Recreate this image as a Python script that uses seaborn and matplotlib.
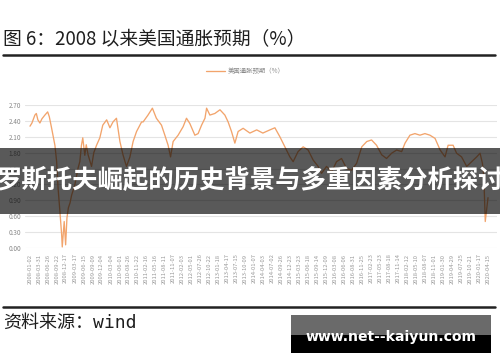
import matplotlib
matplotlib.use("Agg")
import matplotlib.pyplot as plt
from matplotlib.patches import Rectangle
from matplotlib.lines import Line2D
import pandas as pd
import seaborn as sns

# ---- data ----
dates = [
    "2008-01-02", "2008-01-21", "2008-02-19", "2008-03-04", "2008-03-19", "2008-04-08",
    "2008-04-28", "2008-05-27", "2008-06-23", "2008-07-09", "2008-07-31", "2008-09-02",
    "2008-09-19", "2008-10-03", "2008-10-21", "2008-11-07", "2008-11-13", "2008-11-24",
    "2008-12-02", "2008-12-16", "2008-12-29", "2009-01-12", "2009-01-28", "2009-02-13",
    "2009-03-16", "2009-04-17", "2009-05-04", "2009-05-20", "2009-06-02", "2009-06-22",
    "2009-07-06", "2009-07-24", "2009-08-27", "2009-09-18", "2009-10-15", "2009-11-16",
    "2009-12-15", "2010-01-22", "2010-02-23", "2010-03-25", "2010-04-28", "2010-06-01",
    "2010-07-01", "2010-08-04", "2010-09-07", "2010-10-08", "2010-11-11", "2010-12-30",
    "2011-01-14", "2011-03-03", "2011-04-15", "2011-05-24", "2011-07-13", "2011-08-15",
    "2011-09-16", "2011-10-10", "2011-11-04", "2011-12-23", "2012-02-10", "2012-03-14",
    "2012-04-16", "2012-06-04", "2012-07-06", "2012-08-09", "2012-09-11", "2012-09-27",
    "2012-10-29", "2012-12-17", "2013-02-05", "2013-03-25", "2013-04-26", "2013-05-29",
    "2013-07-01", "2013-08-02", "2013-09-20", "2013-11-25", "2014-01-31", "2014-04-01",
    "2014-06-09", "2014-07-28", "2014-09-15", "2014-11-03", "2014-12-22", "2015-01-23",
    "2015-03-12", "2015-05-01", "2015-06-19", "2015-08-07", "2015-09-25", "2015-10-28",
    "2015-12-16", "2016-02-04", "2016-03-23", "2016-05-11", "2016-06-30", "2016-08-18",
    "2016-10-06", "2016-11-25", "2017-01-13", "2017-03-01", "2017-04-19", "2017-06-08",
    "2017-07-26", "2017-09-14", "2017-11-02", "2017-12-21", "2018-01-23", "2018-03-12",
    "2018-04-30", "2018-06-18", "2018-08-06", "2018-09-24", "2018-11-13", "2019-01-02",
    "2019-02-19", "2019-03-21", "2019-05-09", "2019-06-12", "2019-07-31", "2019-09-19",
    "2019-11-07", "2019-12-26", "2020-01-28", "2020-02-20", "2020-03-05", "2020-03-19",
    "2020-04-15",
]
inflation_expectation = [
    2.30, 2.36, 2.51, 2.54, 2.42, 2.36,
    2.44, 2.51, 2.57, 2.48, 2.27, 1.94,
    1.63, 1.13, 0.69, 0.25, 0.02, 0.30,
    0.50, 0.06, 0.57, 0.76, 0.85, 1.00,
    1.19, 1.51, 1.63, 1.94, 2.08, 1.75,
    1.95, 1.76, 1.54, 1.80, 1.94, 2.08,
    2.32, 2.42, 2.27, 2.38, 2.45, 2.01,
    1.76, 1.54, 1.72, 2.01, 2.20, 2.38,
    2.38, 2.51, 2.64, 2.45, 2.32, 2.13,
    1.94, 1.72, 2.01, 2.13, 2.29, 2.45,
    2.35, 2.13, 2.16, 2.32, 2.45, 2.64,
    2.51, 2.54, 2.61, 2.51, 2.38, 2.20,
    1.98, 2.20, 2.26, 2.17, 2.23, 2.17,
    2.23, 2.27, 2.10, 1.91, 1.72, 1.63,
    1.82, 1.91, 1.85, 1.66, 1.54, 1.41,
    1.54, 1.44, 1.63, 1.69, 1.50, 1.47,
    1.60, 1.91, 2.01, 2.04, 1.94, 1.76,
    1.69, 1.79, 1.85, 1.82, 1.98, 2.13,
    2.16, 2.13, 2.16, 2.13, 2.07, 1.85,
    1.72, 1.94, 1.94, 1.79, 1.72, 1.54,
    1.63, 1.72, 1.79, 1.60, 1.35, 0.50,
    0.95,
]
tick_dates = [
    "2008-01-02", "2008-03-31", "2008-06-26", "2008-09-22", "2008-12-17", "2009-03-17",
    "2009-06-15", "2009-09-09", "2009-12-04", "2010-03-04", "2010-06-01", "2010-08-26",
    "2010-11-22", "2011-02-16", "2011-05-16", "2011-08-11", "2011-11-07", "2012-02-03",
    "2012-05-01", "2012-07-26", "2012-10-22", "2013-01-18", "2013-04-17", "2013-07-15",
    "2013-10-09", "2014-01-07", "2014-04-03", "2014-07-02", "2014-09-26", "2014-12-23",
    "2015-03-23", "2015-06-18", "2015-09-14", "2015-12-09", "2016-03-08", "2016-06-06",
    "2016-08-31", "2016-11-25", "2017-02-23", "2017-05-23", "2017-08-18", "2017-11-14",
    "2018-02-12", "2018-05-10", "2018-08-07", "2018-11-01", "2019-01-30", "2019-04-29",
    "2019-07-25", "2019-10-21", "2020-01-17", "2020-04-15",
]
y_ticks = [0.00, 0.30, 0.60, 0.90, 1.20, 1.50, 1.80, 2.10, 2.40, 2.70]
y_tick_labels = ["0.00", "0.30", "0.60", "0.90", "1.20", "1.50", "1.80", "2.10", "2.40", "2.70"]

title_text = "图 6：2008 以来美国通胀预期（%）"
legend_text = "美国通胀预期（%）"
banner_text = "罗斯托夫崛起的历史背景与多重因素分析探讨"
source_text = "资料来源：wind"
watermark_text = "www.net--kaiyun.com"

# ---- styling ----
sns.set_theme(style="white")
plt.rcParams["font.family"] = ["Noto Sans CJK SC", "DejaVu Sans"]

W, H = 500, 362
fig = plt.figure(figsize=(W / 100, H / 100), dpi=100)
fig.patch.set_facecolor("white")

def fx(px):
    return px / W

def fy(py):
    return 1 - py / H

ax = fig.add_axes([fx(25), fy(248), fx(497) - fx(25), fy(105) - fy(248)])

df = pd.DataFrame({"date": pd.to_datetime(dates), "value": inflation_expectation})
sns.lineplot(data=df, x="date", y="value", ax=ax, color="#F2A46C", linewidth=0.95,
             label=legend_text)

start = pd.Timestamp(dates[0]) - pd.Timedelta(days=49)
end = pd.Timestamp(dates[-1]) + pd.Timedelta(days=88)
ax.set_xlim(start, end)
ax.set_ylim(0, 2.7)
ax.set_yticks(y_ticks)
ax.set_yticklabels(y_tick_labels)
ax.set_xticks(pd.to_datetime(tick_dates))
ax.set_xticklabels(tick_dates, rotation=90)
ax.tick_params(axis="y", labelsize=4.6, labelcolor="#888888", length=0, pad=3)
ax.tick_params(axis="x", labelsize=4.2, labelcolor="#999999", length=0, pad=4)
ax.set_xlabel("")
ax.set_ylabel("")
ax.grid(axis="y", color="#e4e4e4", linewidth=0.8)
ax.grid(axis="x", visible=False)
for s in ax.spines.values():
    s.set_visible(False)

leg = ax.legend(loc="center", bbox_to_anchor=(fx(245), fy(71)), bbox_transform=fig.transFigure,
                frameon=False, fontsize=4.6, handlelength=3.0, handletextpad=0.4)
for t in leg.get_texts():
    t.set_color("#888888")

# title and rules
fig.text(fx(3), fy(40), title_text, fontsize=13.5, color="#1e1e1e", va="center", ha="left")
fig.add_artist(Line2D([fx(3), fx(495)], [fy(55), fy(55)], color="#222222", linewidth=1.8))
fig.add_artist(Line2D([fx(3), fx(495)], [fy(306.5), fy(306.5)], color="#222222", linewidth=1.8))
fig.text(fx(3), fy(323), source_text, fontsize=13, color="#1e1e1e", va="center", ha="left",
         family=["DejaVu Sans Mono", "Noto Sans CJK SC"])

# overlay banner
fig.add_artist(Rectangle((0, fy(214)), 1, fy(148) - fy(214), transform=fig.transFigure,
                         facecolor="black", alpha=0.65, edgecolor="none", zorder=5))
fig.text(0.5, fy(181), banner_text, fontsize=18.3, fontweight="bold", color="white",
         ha="center", va="center", zorder=6)

# watermark box
fig.add_artist(Rectangle((fx(291), fy(335)), fx(491) - fx(291), fy(315) - fy(335),
                         transform=fig.transFigure, facecolor="#6a6a6a", edgecolor="none", zorder=5))
fig.add_artist(Rectangle((fx(291), fy(353)), fx(491) - fx(291), fy(335) - fy(353),
                         transform=fig.transFigure, facecolor="black", edgecolor="none", zorder=5))
fig.text(fx(391), fy(337), watermark_text, fontsize=10.1, fontweight="bold", color="white",
         ha="center", va="center", family=["DejaVu Sans"], zorder=6)

fig.savefig("out.png", dpi=100)
